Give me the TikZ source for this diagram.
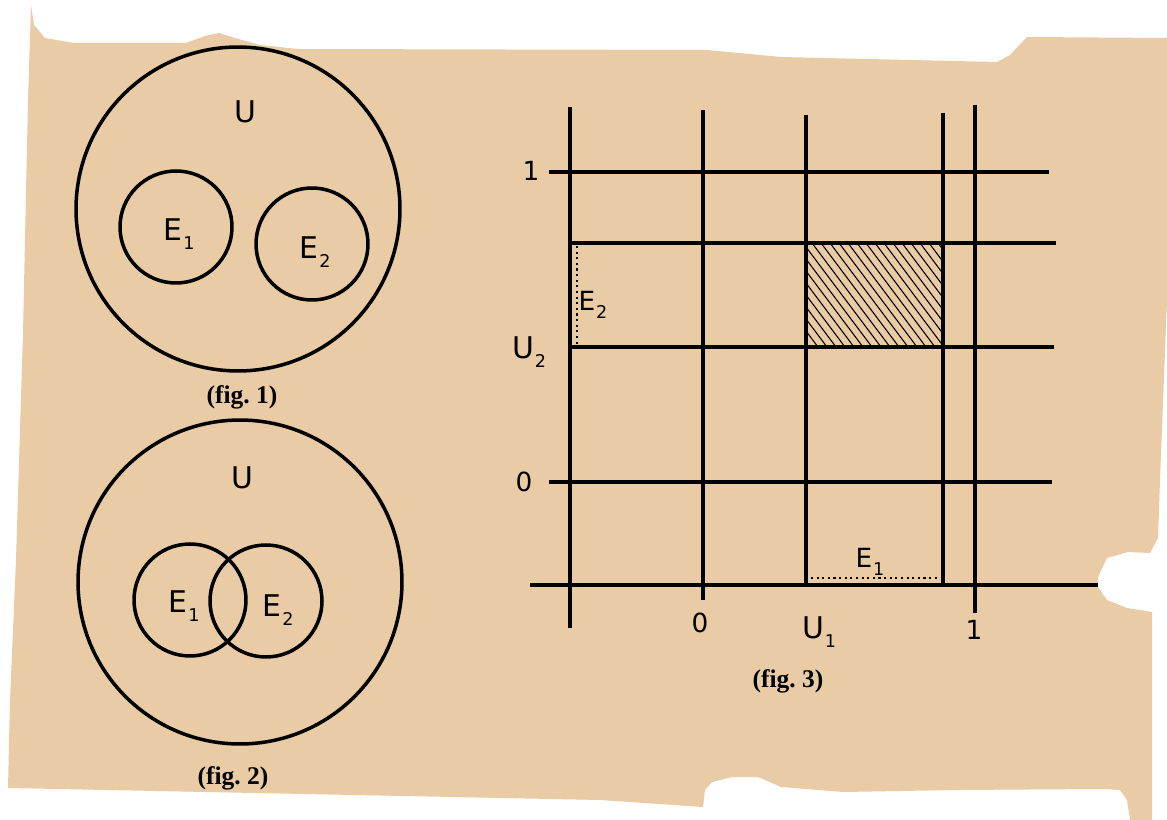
\documentclass[tikz,border=0pt]{standalone}
\usepackage{fontspec}
\setmainfont{Liberation Serif}
\setsansfont{DejaVu Sans}
\usepackage{tikz}
\usetikzlibrary{positioning}
\definecolor{paper}{RGB}{233,203,166}
\newcommand{\hand}[2]{#1\kern0.5pt\raisebox{-0.55ex}{\fontsize{10}{10}\selectfont #2}}
\tikzset{
  setcircle/.style={
    draw,
    circle,
    line width=2pt,
    inner sep=0pt
  },
  bigset/.style={setcircle, minimum size=6.48cm},
  smallset/.style={setcircle, minimum size=2.24cm},
  gridline/.style={line width=1.9pt},
  hatchline/.style={line width=0.6pt},
  dotline/.style={dotted, line width=1.2pt},
  handlabel/.style={font=\sffamily\fontsize{17}{20}\selectfont, inner sep=0pt},
  ticklabel/.style={font=\sffamily\fontsize{15}{17}\selectfont, inner sep=0pt},
  caption/.style={font=\bfseries\fontsize{14.5}{16}\selectfont, inner sep=0pt}
}

\begin{document}
\begin{tikzpicture}[x=0.02cm, y=-0.02cm]
\useasboundingbox (0,0) rectangle (1167,820);
\fill[white] (0,0) rectangle (1167,820);
% the sheet
\fill[paper] (31,5) -- (34,25) -- (45,38) -- (74,43) -- (186,43) -- (205,36) -- (219,33)
  -- (235,38) -- (260,45) -- (298,49) -- (707,50) -- (781,57) -- (997,62) -- (1010,55)
  -- (1027,37) -- (1167,38) -- (1167,300) -- (1160,480) -- (1158,538) -- (1150,553)
  -- (1128,552) -- (1107,558) -- (1098,577) -- (1098,587) -- (1107,600) -- (1127,608)
  -- (1152,612) -- (1152,820) -- (1130,820) -- (1127,800) -- (1120,790) -- (1103,789)
  -- (957,790) -- (843,792) -- (781,787) -- (758,777) -- (732,777) -- (712,782)
  -- (705,790) -- (703,807) -- (600,800) -- (8,788) -- (10,700) -- (16,560)
  -- (23,333) -- (28,100) -- cycle;

% fig. 1
\node[bigset] (univA) at (238,209) {};
\node[smallset] (evA1) at (176,227) {};
\node[smallset] (evA2) at (312,244) {};
\node[handlabel] (labUA) at (245,112) {U};
\node[handlabel] (labA1) at (179,234) {\hand{E}{1}};
\node[handlabel] (labA2) at (315,252) {\hand{E}{2}};
\node[caption] (capA) at (242,397) {(fig.\ 1)};

% fig. 2
\node[bigset] (univB) at (240,582) {};
\node[smallset] (evB1) at (190,600) {};
\node[smallset] (evB2) at (266,601) {};
\node[handlabel] (labUB) at (242,478) {U};
\node[handlabel] (labB1) at (184,606) {\hand{E}{1}};
\node[handlabel] (labB2) at (278,610) {\hand{E}{2}};
\node[caption] (capB) at (233,778) {(fig.\ 2)};

% fig. 3
\draw[gridline] (570,107) -- (570,628);
\draw[gridline] (703,110) -- (703,600);
\draw[gridline] (806,115) -- (806,585);
\draw[gridline] (943,113) -- (943,585);
\draw[gridline] (975,105) -- (975,613);
\draw[gridline] (549,172) -- (1049,172);
\draw[gridline] (572,243) -- (1056,243);
\draw[gridline] (572,347) -- (1054,347);
\draw[gridline] (549,482) -- (1052,482);
\draw[gridline] (530,585) -- (1098,585);
\begin{scope}
  \clip (806,243) rectangle (943,347);
  \foreach \x in {722,731,...,950}
    \draw[hatchline] (\x,243) -- ++(78,104);
\end{scope}
\draw[dotline] (577,246) -- (577,344);
\draw[dotline] (811,578) -- (938,578);
\node[ticklabel] (tyone) at (531,171) {1};
\node[ticklabel] (tyzero) at (524,482) {0};
\node[handlabel] (labV2) at (529,352) {\hand{U}{2}};
\node[ticklabel] (labF2) at (593,305) {\hand{E}{2}};
\node[ticklabel] (labF1) at (870,562) {\hand{E}{1}};
\node[ticklabel] (txzero) at (700,623) {0};
\node[handlabel] (labV1) at (819,632) {\hand{U}{1}};
\node[ticklabel] (txone) at (974,630) {1};
\node[caption] (capC) at (788,681) {(fig.\ 3)};
\end{tikzpicture}
\end{document}
